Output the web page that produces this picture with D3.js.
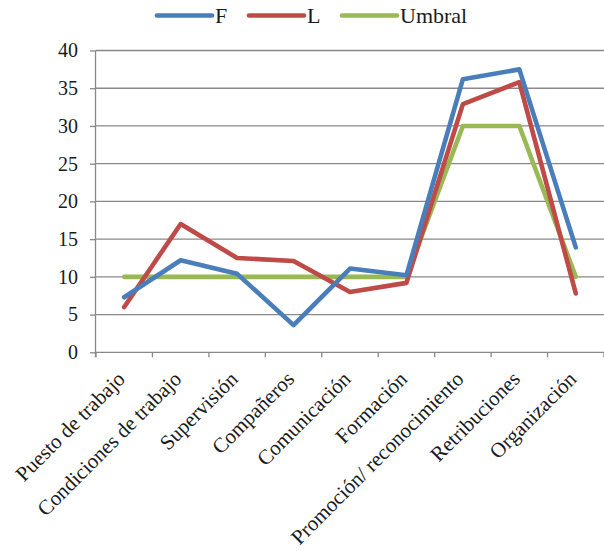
<!DOCTYPE html>
<html><head><meta charset="utf-8">
<script src="https://cdn.jsdelivr.net/npm/d3@7"></script>
</head><body style="margin:0"><svg id="c" width="604" height="551" style="display:block" font-family="Liberation Serif"></svg>
<script>
const categories = ["Puesto de trabajo","Condiciones de trabajo","Supervisión","Compañeros","Comunicación","Formación","Promoción/ reconocimiento","Retribuciones","Organización"];
const seriesF = [7.3, 12.2, 10.4, 3.6, 11.1, 10.2, 36.2, 37.5, 13.9];
const seriesL = [6.0, 17.0, 12.5, 12.1, 8.0, 9.2, 32.9, 35.8, 7.8];
const seriesUmbral = [10, 10, 10, 10, 10, 10, 30, 30, 10];
const yTicks = [0,5,10,15,20,25,30,35,40];
const seriesNames = ["F","L","Umbral"];
const colors = ["#4A7EBB","#BE4B48","#98B954"];

const svg = d3.select("#c");
const pL = 96, pR = 604, pT = 50.5, pB = 352.3;
const x = d3.scaleBand().domain(categories).range([pL, pR]);
const y = d3.scaleLinear().domain([0,40]).range([pB, pT]);
const gridC = "#898989";

function styleText(sel, size){
  sel.attr("font-family", "Liberation Serif")
     .style("font-family", '"Liberation Serif", "Times New Roman"', "important")
     .attr("font-size", size).attr("fill","#1a1a1a");
}

// gridlines
svg.append("g").selectAll("line").data(yTicks.filter(d=>d>0)).join("line")
  .attr("x1", pL).attr("x2", pR).attr("y1", d=>y(d)).attr("y2", d=>y(d))
  .attr("stroke",gridC).attr("stroke-width",1.3);

// y axis
const ya = svg.append("g").attr("transform",`translate(${pL},0)`)
  .call(d3.axisLeft(y).tickValues(yTicks).tickSize(6).tickPadding(12));
ya.attr("font-family", "Liberation Serif").attr("font-size", 20);
ya.select(".domain").attr("stroke",gridC).attr("stroke-width",1.3).attr("d",`M-0.5,${pT}V${pB+5}`);
ya.selectAll(".tick line").attr("stroke",gridC).attr("stroke-width",1.3);
styleText(ya.selectAll("text"), 20);

// x axis
const xa = svg.append("g");
xa.append("line").attr("x1",pL).attr("x2",pR).attr("y1",pB).attr("y2",pB)
  .attr("stroke",gridC).attr("stroke-width",1.3);
const bounds = categories.map(c=>x(c)).concat([pR]);
xa.selectAll(".xt").data(bounds).join("line").attr("class","xt")
  .attr("x1",d=>d).attr("x2",d=>d).attr("y1",pB).attr("y2",pB+5)
  .attr("stroke",gridC).attr("stroke-width",1.3);
const xl = xa.selectAll(".xl").data(categories).join("text").attr("class","xl")
  .attr("transform", d=>`translate(${x(d)+x.bandwidth()/2+2},${pB+28}) rotate(-45)`)
  .attr("text-anchor","end").text(d=>d);
styleText(xl, 21);

// lines
const allSeries = [seriesF, seriesL, seriesUmbral];
const line = d3.line().x((d,i)=>x(categories[i])+x.bandwidth()/2).y(d=>y(d));
[2,1,0].forEach(k=>{
  svg.append("path").attr("d", line(allSeries[k])).attr("fill","none")
    .attr("stroke",colors[k]).attr("stroke-width",4.6)
    .attr("stroke-linejoin","round").attr("stroke-linecap","round");
});

// legend
const legX = [157, 249, 342];
seriesNames.forEach((n,i)=>{
  svg.append("line").attr("x1",legX[i]).attr("x2",legX[i]+55).attr("y1",15.5).attr("y2",15.5)
    .attr("stroke",colors[i]).attr("stroke-width",4.6).attr("stroke-linecap","round");
  const t = svg.append("text").attr("x",legX[i]+58).attr("y",22.5).text(n);
  styleText(t, 22);
});
</script></body></html>
